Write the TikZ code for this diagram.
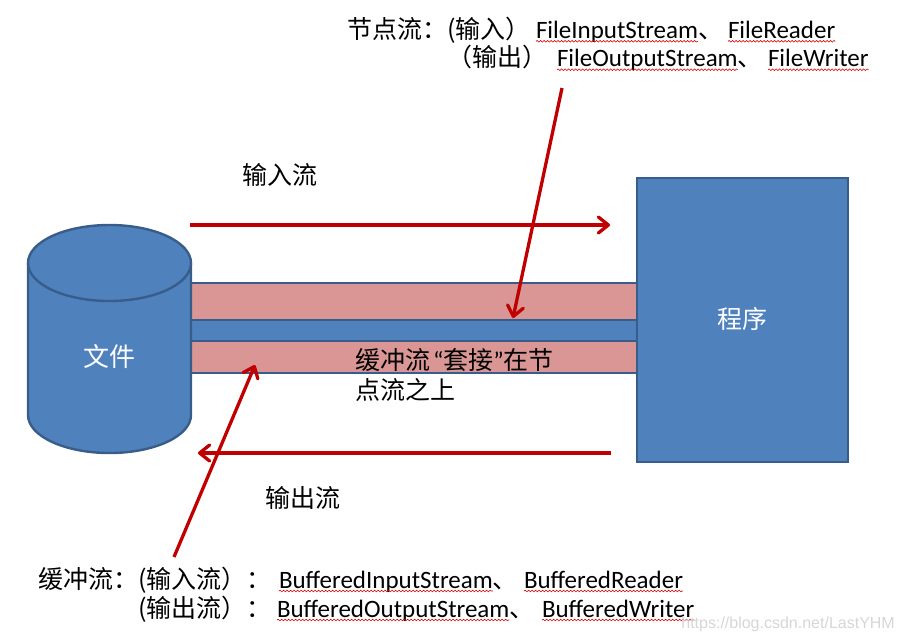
\documentclass[tikz,border=0pt]{standalone}
\usepackage{fontspec}
\setmainfont{Carlito}
\newfontfamily\cjk{Noto Sans CJK SC}
\newfontfamily\wmfont{Liberation Sans}
\usetikzlibrary{arrows.meta,decorations.pathmorphing}
\definecolor{pptblue}{HTML}{4F81BD}
\definecolor{pptline}{HTML}{385D8A}
\definecolor{pptpink}{HTML}{D99694}
\definecolor{pptred}{HTML}{C00000}
\definecolor{wmgray}{HTML}{D6D6D6}
\begin{document}
\begin{tikzpicture}[x=1pt,y=-1pt,
  txt/.style={inner sep=0pt, outer sep=0pt, anchor=base west, font=\fontsize{25}{30}\selectfont},
  cjktxt/.style={inner sep=0pt, outer sep=0pt, anchor=base west, font=\fontsize{25}{30}\selectfont\cjk},
  labeltxt/.style={inner sep=0pt, font=\fontsize{25}{30}\selectfont\cjk},
  shapeline/.style={draw=pptline, line width=2.4pt},
  redarrow/.style={draw=pptred, line width=3.3pt, -{Straight Barb[length=10pt,width=16pt,round]}},
  spell/.style={draw=red!85!black, line width=0.6pt, decorate, decoration={snake, amplitude=0.8pt, segment length=3.5pt}},
]
\useasboundingbox (0,0) rectangle (904,641);

% band between file and program
\filldraw[fill=pptblue, shapeline] (191,283) rectangle (637,373);
\filldraw[fill=pptpink, shapeline] (191,283) rectangle (637,320);
\filldraw[fill=pptpink, shapeline] (191,341) rectangle (637,373);

% program box
\node[fill=pptblue, shapeline, minimum width=211pt, minimum height=284pt, inner sep=0pt] (prog) at (742.5,320) {};
\node[labeltxt, text=white] (progl) at (742,319) {程序};

% cylinder (file)
\filldraw[fill=pptblue, shapeline] (28,263) -- (28,415) arc[start angle=180, end angle=0, x radius=81.5, y radius=38] -- (191,263);
\filldraw[fill=pptblue, shapeline] (109.5,263) ellipse[x radius=81.5, y radius=38];
\node[labeltxt, text=white, font=\fontsize{26}{30}\selectfont\cjk] (file) at (109.5,357) {文件};

% stream labels
\node[labeltxt] (inl) at (280,175) {输入流};
\node[labeltxt] (outl) at (303,498) {输出流};

% middle note
\node[txt] (mid1) at (355,369) {{\cjk 缓冲流}\hspace{3pt}“{\cjk 套接}”{\cjk 在节}};
\node[cjktxt] (mid2) at (355,399) {点流之上};

% top text: node streams
\node[cjktxt] (np) at (347,38.3) {节点流：(输入）};
\node[txt] (fis) at (536,38.3) {FileInputStream};
\node[cjktxt] (d1) at (fis.base east) {、};
\node[txt] (fr) at (728,38.3) {FileReader};
\node[cjktxt] (no) at (447,66.7) {（输出）};
\node[txt] (fos) at (557,66.7) {FileOutputStream};
\node[cjktxt] (d2) at (fos.base east) {、};
\node[txt] (fw) at (768,66.7) {FileWriter};

% bottom text: buffered streams
\node[cjktxt] (bp) at (38,588) {缓冲流：(输入流）：};
\node[txt] (bis) at (279,588) {BufferedInputStream};
\node[cjktxt] (d3) at (bis.base east) {、};
\node[txt] (br) at (524,588) {BufferedReader};
\node[cjktxt] (bo) at (138,617) {(输出流）：};
\node[txt] (bos) at (277,617) {BufferedOutputStream};
\node[cjktxt] (d4) at (bos.base east) {、};
\node[txt] (bw) at (542,617) {BufferedWriter};

% spell-check underlines
\foreach \w in {fis,fr,fos,fw,bis,br,bos,bw}
  \draw[spell] ([yshift=-3pt]\w.base west) -- ([yshift=-3pt]\w.base east);

% watermark
\node[anchor=base east, inner sep=0pt, font=\wmfont\fontsize{16}{16}\selectfont, text=wmgray] (wm) at (895,628) {https://blog.csdn.net/LastYHM};

% arrows
\coordinate (inS) at (190,225);
\coordinate (inE) at (610,225);
\coordinate (outS) at (611,453);
\coordinate (outE) at (198,453);
\coordinate (npS) at (562,88);
\coordinate (npE) at (513,318);
\coordinate (bpS) at (174,557);
\coordinate (bpE) at (255,365);
\draw[redarrow] (inS) -- (inE);
\draw[redarrow] (outS) -- (outE);
\draw[redarrow] (npS) -- (npE);
\draw[redarrow] (bpS) -- (bpE);
\end{tikzpicture}
\end{document}
